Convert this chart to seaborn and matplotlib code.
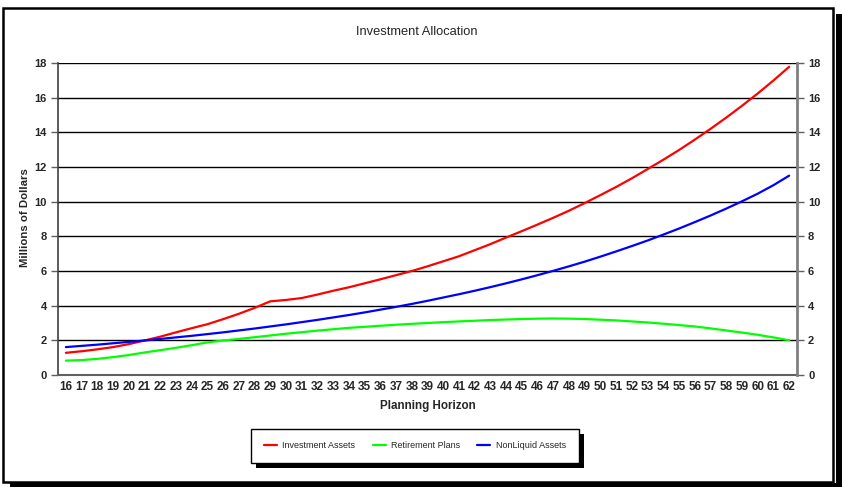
import numpy as np
import pandas as pd
import matplotlib
matplotlib.use("Agg")
import matplotlib.pyplot as plt
from matplotlib.patches import Rectangle
import seaborn as sns

# ---------------- data ----------------
ages = list(range(16, 63))
investment_assets = [1.28, 1.37, 1.48, 1.61, 1.78, 1.99, 2.21, 2.46, 2.70, 2.93,
                     3.22, 3.53, 3.87, 4.25, 4.33, 4.44, 4.64, 4.86, 5.06, 5.29,
                     5.52, 5.76, 6.00, 6.27, 6.56, 6.85, 7.20, 7.55, 7.93, 8.30,
                     8.68, 9.07, 9.48, 9.92, 10.38, 10.85, 11.35, 11.88, 12.42, 12.98,
                     13.58, 14.20, 14.85, 15.53, 16.24, 16.99, 17.78]
retirement_plans = [0.83, 0.86, 0.93, 1.03, 1.15, 1.30, 1.43, 1.57, 1.72, 1.88,
                    1.99, 2.08, 2.18, 2.28, 2.38, 2.47, 2.56, 2.64, 2.72, 2.78,
                    2.84, 2.90, 2.95, 3.00, 3.05, 3.09, 3.13, 3.17, 3.20, 3.23,
                    3.25, 3.26, 3.25, 3.23, 3.19, 3.15, 3.09, 3.03, 2.96, 2.88,
                    2.80, 2.69, 2.57, 2.45, 2.32, 2.17, 2.00]
nonliquid_assets = [1.61, 1.68, 1.75, 1.83, 1.91, 1.99, 2.08, 2.17, 2.26, 2.36,
                    2.46, 2.57, 2.68, 2.80, 2.92, 3.05, 3.18, 3.32, 3.46, 3.61,
                    3.77, 3.93, 4.10, 4.28, 4.47, 4.66, 4.86, 5.07, 5.29, 5.52,
                    5.76, 6.01, 6.27, 6.54, 6.83, 7.13, 7.44, 7.76, 8.10, 8.45,
                    8.82, 9.20, 9.60, 10.02, 10.46, 10.95, 11.50]
series_names = ["Investment Assets", "Retirement Plans", "NonLiquid Assets"]
series_colors = ["#FF0000", "#00FF00", "#0000FF"]
y_ticks = [0, 2, 4, 6, 8, 10, 12, 14, 16, 18]

df = pd.DataFrame({
    "Age": ages * 3,
    "Value": investment_assets + retirement_plans + nonliquid_assets,
    "Series": [series_names[0]] * len(ages) + [series_names[1]] * len(ages) + [series_names[2]] * len(ages),
})

# ---------------- style ----------------
sns.set_style("white")
plt.rcParams['font.family'] = ['Liberation Sans', 'DejaVu Sans']

W, H = 842, 487
fig = plt.figure(figsize=(W / 100, H / 100), dpi=100)
fig.patch.set_facecolor("white")

def fx(px):
    return px / W

def fy(py):
    return 1 - py / H

L, R, T, B = 58, 797, 63, 375
ax = fig.add_axes([fx(L), fy(B), fx(R - L), (B - T) / H])

sns.lineplot(data=df, x="Age", y="Value", hue="Series", palette=series_colors,
             hue_order=series_names, linewidth=1.6, ax=ax, legend=False, zorder=3)

ax.set_xlim(ages[0] - 0.5, ages[-1] + 0.5)
ax.set_ylim(0, 18)
ax.set_yticks(y_ticks)
ax.set_yticklabels([str(v) for v in y_ticks])
for v in y_ticks[1:]:
    ax.axhline(v, color="black", linewidth=1.0, zorder=1)

# x ticks: labels at category centers, tick marks at boundaries
ax.set_xticks(ages)
ax.set_xticklabels([str(a) for a in ages])
ax.set_xticks([a - 0.5 for a in ages] + [ages[-1] + 0.5], minor=True)
ax.tick_params(axis="x", which="major", length=0, pad=4, labelsize=8.5)
ax.tick_params(axis="x", which="minor", length=5, width=1, color="#606060", direction="out")
ax.tick_params(axis="y", which="major", length=5, width=1, color="#606060", direction="out",
               labelsize=8, pad=3, left=True)
for lbl in ax.get_xticklabels() + ax.get_yticklabels():
    lbl.set_fontweight("bold")

ax.set_xlabel("")
ax.set_ylabel("")
fig.text(fx(428), fy(406), "Planning Horizon", ha="center", va="center",
         fontsize=8.4, fontweight="bold")
fig.text(fx(25), fy(218), "Millions of Dollars", ha="center", va="center",
         rotation=90, fontsize=8.2, fontweight="bold")

ax.spines["top"].set_visible(False)
ax.spines["left"].set_color("#404040")
ax.spines["left"].set_linewidth(1.2)
ax.spines["bottom"].set_color("#606060")
ax.spines["bottom"].set_linewidth(1.5)
ax.spines["right"].set_visible(False)

ax2 = ax.twinx()
ax2.set_ylim(0, 18)
ax2.set_yticks(y_ticks)
ax2.set_yticklabels([str(v) for v in y_ticks])
ax2.tick_params(axis="y", length=5, width=1, color="#606060", direction="out",
                labelsize=8, pad=3, right=True)
for lbl in ax2.get_yticklabels():
    lbl.set_fontweight("bold")
for s in ["top", "left", "bottom"]:
    ax2.spines[s].set_visible(False)
ax2.spines["right"].set_color("#808080")
ax2.spines["right"].set_linewidth(2)

fig.text(fx(417), fy(32), "Investment Allocation", ha="center", va="center", fontsize=9.3)

# legend
handles = [plt.Line2D([], [], color=c, linewidth=1.6) for c in series_colors]
leg = fig.legend(handles, series_names, loc="center", bbox_to_anchor=(fx(415), fy(446)),
                 ncol=3, fontsize=6.5, frameon=True, fancybox=False, edgecolor="black",
                 facecolor="white", framealpha=1.0,
                 handlelength=1.45, handletextpad=0.6, columnspacing=1.9, borderpad=1.4)
leg.get_frame().set_linewidth(1.0)
leg.set_zorder(6)
fig.canvas.draw()
bb = leg.get_window_extent()
x0, y0 = bb.x0, bb.y0
fig.patches.append(Rectangle((fx(x0 + 5), (y0 - 5) / H), (bb.width) / W, (bb.height) / H,
                             transform=fig.transFigure, facecolor="black", edgecolor="none",
                             zorder=4.5))

# outer frame with shadow
fig.patches.append(Rectangle((fx(836), fy(487)), fx(6), (487 - 14) / H, transform=fig.transFigure,
                             facecolor="black", edgecolor="none", zorder=0.5))
fig.patches.append(Rectangle((fx(10), fy(487)), fx(832), 4 / H, transform=fig.transFigure,
                             facecolor="black", edgecolor="none", zorder=0.5))
fig.patches.append(Rectangle((fx(3), fy(482)), fx(830), (482 - 8) / H, transform=fig.transFigure,
                             facecolor="none", edgecolor="black", linewidth=1.8, zorder=0.6))

fig.savefig("out.png", dpi=100)
